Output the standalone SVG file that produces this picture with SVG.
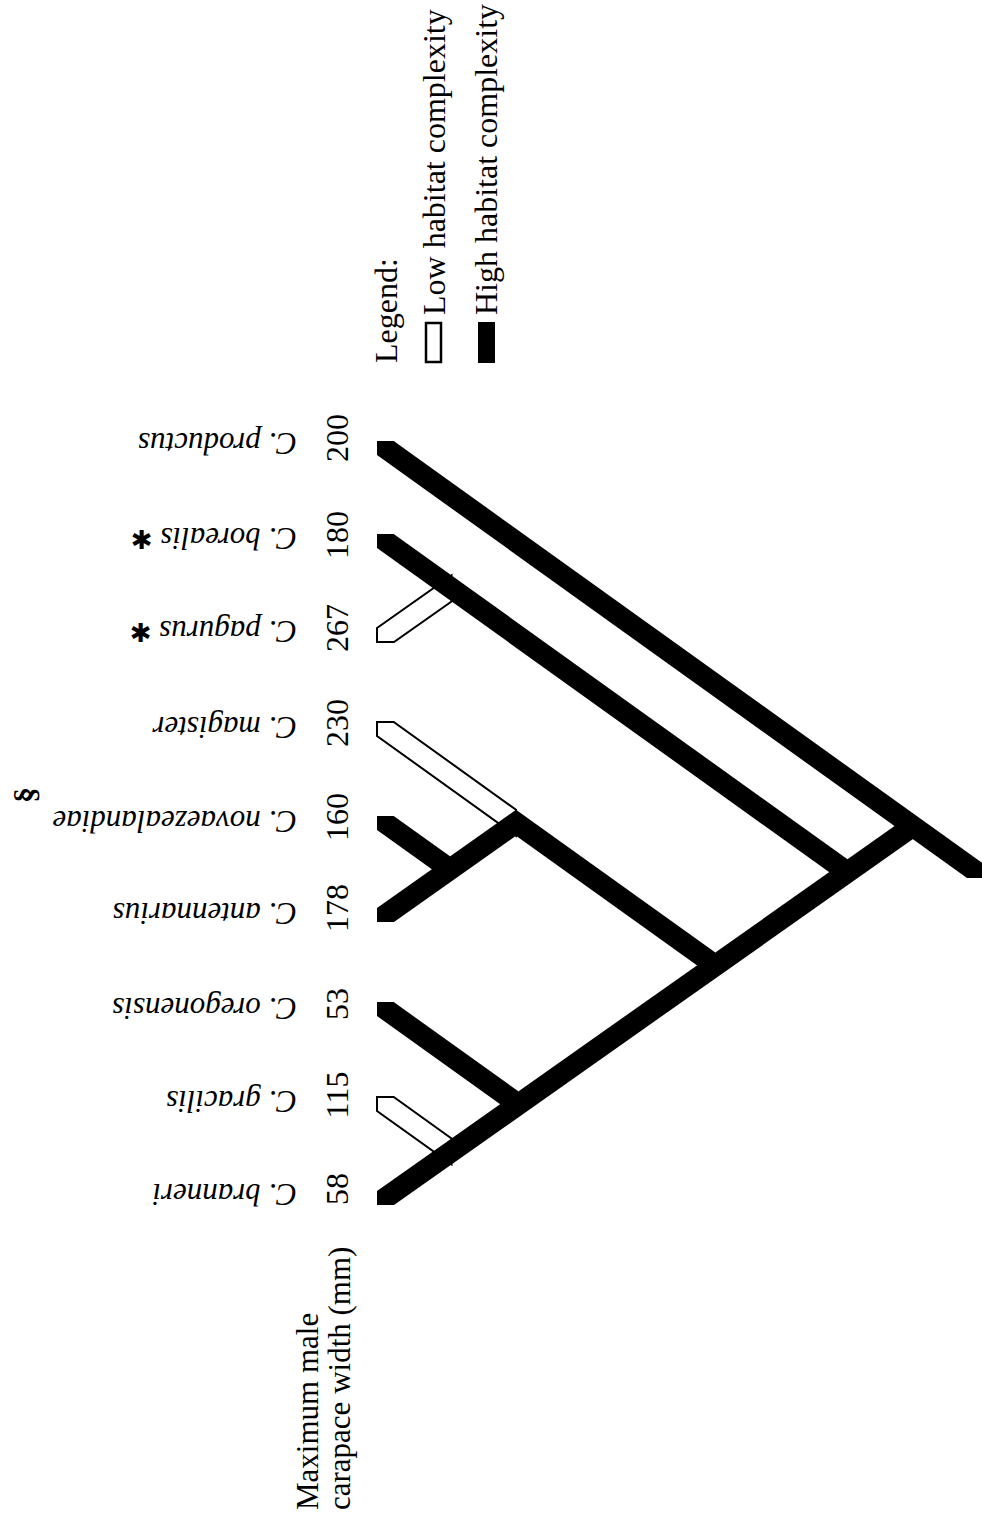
<svg xmlns="http://www.w3.org/2000/svg" width="982" height="1521" viewBox="0 0 982 1521">
<style>
text { font-family: "Liberation Serif", "Times New Roman", serif; fill: #000; }
.num { font-size: 32px; text-anchor: middle; }
.sp { font-family: "Liberation Serif", "Times New Roman", serif; font-size: 31px; font-style: italic; }
.lab { font-size: 32px; }
.ttl { font-size: 31px; }
.blk { fill: #000; }
.wht { fill: #fff; stroke: #000; stroke-width: 2; }
.mark { font-family: "DejaVu Sans", sans-serif; font-style: normal; font-weight: bold; font-size: 26px; }
.sect { font-family: "Liberation Serif", serif; font-weight: bold; font-size: 32px; text-anchor: middle; }
</style>
<rect width="982" height="1521" fill="#fff"/>

<g id="legend">
  <text class="lab" transform="translate(397,363) rotate(-90)">Legend:</text>
  <rect x="426" y="323" width="15" height="39" fill="#fff" stroke="#000" stroke-width="2.5"/>
  <text class="lab" transform="translate(445,315) rotate(-90)">Low habitat complexity</text>
  <rect x="478" y="322" width="17" height="41" fill="#000"/>
  <text class="lab" transform="translate(497,315) rotate(-90)">High habitat complexity</text>
</g>

<g id="axis-title">
  <text class="ttl" transform="translate(318,1510) rotate(-90)">Maximum male</text>
  <text class="ttl" transform="translate(350,1510) rotate(-90)">carapace width (mm)</text>
</g>

<g id="connectors">
  <polygon class="wht" points="377,628 451.5,575.5 451.5,601.5 394,642 377,642"/>
  <polygon class="wht" points="377,722 393.7,722 516,809.7 516,835.7 377,736"/>
  <polygon class="wht" points="377,1097 393.7,1097 451.5,1138.4 451.5,1164.4 377,1111"/>
  <polygon class="blk" points="377,441 393.7,441 1003.2,878 967,878 377,455"/>
  <polygon class="blk" points="377,534 393.7,534 847.5,859.3 847.5,885.3 377,548"/>
  <polygon class="blk" points="516,809.7 715,952.3 715,978.3 516,835.7"/>
  <polygon class="blk" points="377,816 393.7,816 450,856.3 450,882.3 377,830"/>
  <polygon class="blk" points="377,908 516,809.8 516,835.8 394,922 377,922"/>
  <polygon class="blk" points="377,1002 393.7,1002 518,1091.1 518,1117.1 377,1016"/>
  <polygon class="blk" points="377,1191 913,813.1 913,839.1 394,1205 377,1205"/>
</g>

<g id="taxon-productus">
  <text class="num" transform="translate(348,438) rotate(-90)">200</text>
  <text class="sp" transform="translate(297,433) rotate(180)">C. productus</text>
</g>
<g id="taxon-borealis">
  <text class="num" transform="translate(348,535) rotate(-90)">180</text>
  <text class="sp" transform="translate(297,528) rotate(180)">C. borealis <tspan class="mark" dy="-2">✱</tspan></text>
</g>
<g id="taxon-pagurus">
  <text class="num" transform="translate(348,628) rotate(-90)">267</text>
  <text class="sp" transform="translate(297,621) rotate(180)">C. pagurus <tspan class="mark" dy="-2">✱</tspan></text>
</g>
<g id="taxon-magister">
  <text class="num" transform="translate(348,723) rotate(-90)">230</text>
  <text class="sp" transform="translate(297,717) rotate(180)">C. magister</text>
</g>
<g id="taxon-novaezealandiae">
  <text class="num" transform="translate(348,817) rotate(-90)">160</text>
  <text class="sp" transform="translate(297,811) rotate(180)">C. novaezealandiae</text>
  <text class="sect" transform="translate(36,795) rotate(-90)">§</text>
</g>
<g id="taxon-antennarius">
  <text class="num" transform="translate(348,908) rotate(-90)">178</text>
  <text class="sp" transform="translate(297,903) rotate(180)">C. antennarius</text>
</g>
<g id="taxon-oregonensis">
  <text class="num" transform="translate(348,1004) rotate(-90)">53</text>
  <text class="sp" transform="translate(297,998) rotate(180)">C. oregonensis</text>
</g>
<g id="taxon-gracilis">
  <text class="num" transform="translate(348,1095) rotate(-90)">115</text>
  <text class="sp" transform="translate(297,1091) rotate(180)">C. gracilis</text>
</g>
<g id="taxon-branneri">
  <text class="num" transform="translate(348,1189) rotate(-90)">58</text>
  <text class="sp" transform="translate(297,1184) rotate(180)">C. branneri</text>
</g>
</svg>
